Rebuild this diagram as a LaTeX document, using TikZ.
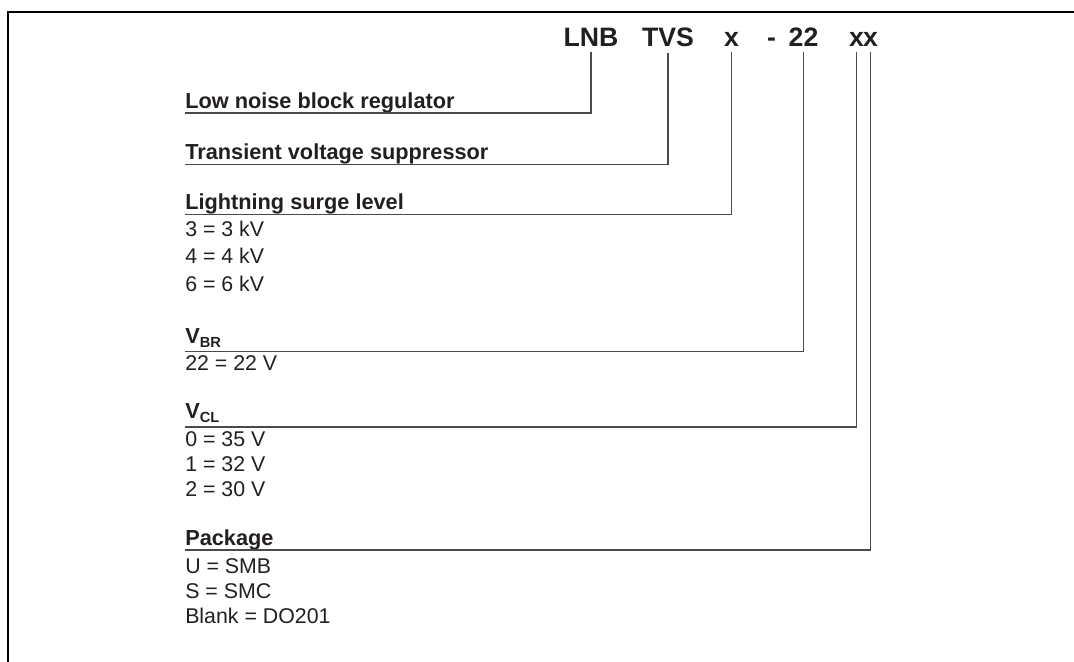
\documentclass[tikz,border=0pt]{standalone}
\usepackage{fontspec}
\setmainfont{Liberation Sans}
\definecolor{ink}{HTML}{231F20}
\definecolor{wire}{HTML}{4A4A4A}
\begin{document}
\begin{tikzpicture}[x=0.75pt,y=-0.75pt,
  hdr/.style={anchor=base,inner sep=0pt,text=ink,font=\fontsize{20}{24}\selectfont\bfseries},
  lbl/.style={anchor=south west,inner sep=0pt,text=ink,text depth=3.3pt,font=\fontsize{16.3}{19}\selectfont\bfseries},
  vlbl/.style={lbl,text depth=6.3pt},
  item/.style={anchor=base west,inner sep=0pt,text=ink,font=\fontsize{16}{19}\selectfont},
  conn/.style={draw=wire,line width=0.85pt},
  frame/.style={draw=black,line width=1.6pt}]
\useasboundingbox (0,0) rectangle (1074,661);
\draw[frame] (1076,12) -- (8,12) -- (8,663);
% header
\node[hdr] (hLNB) at (591,46) {LNB};
\node[hdr] (hTVS) at (668,46) {TVS};
\node[hdr] (hX) at (731.5,46) {x};
\node[hdr] (hDash) at (771.5,46) {-};
\node[hdr] (h22) at (803.5,46) {22};
\node[hdr] (hXa) at (856.5,46) {x};
\node[hdr] (hXb) at (870.5,46) {x};
% labels
\newcommand{\vsub}[1]{\raisebox{-3pt}{\fontsize{11}{13}\selectfont #1}}
\node[lbl] (lab1) at (185,113) {Low noise block regulator};
\node[lbl] (lab2) at (185,164.5) {Transient voltage suppressor};
\node[lbl] (lab3) at (185,214.3) {Lightning surge level};
\node[vlbl] (lab4) at (185,351.7) {V\vsub{BR}};
\node[vlbl] (lab5) at (185,427) {V\vsub{CL}};
\node[lbl] (lab6) at (185,550) {Package};
% connectors
\draw[conn] (hLNB.south) ++(0,6) |- (lab1.south west);
\draw[conn] (hTVS.south) ++(0,6) |- (lab2.south west);
\draw[conn] (hX.south) ++(0,6) |- (lab3.south west);
\draw[conn] (h22.south) ++(0,6) |- (lab4.south west);
\draw[conn] (hXa.south) ++(0,6) |- (lab5.south west);
\draw[conn] (hXb.south) ++(0,6) |- (lab6.south west);
% items
\node[item] (i31) at (185,236) {3 = 3 kV};
\node[item] (i32) at (185,263) {4 = 4 kV};
\node[item] (i33) at (185,291) {6 = 6 kV};
\node[item] (i41) at (185,370) {22 = 22 V};
\node[item] (i51) at (185,446) {0 = 35 V};
\node[item] (i52) at (185,471) {1 = 32 V};
\node[item] (i53) at (185,496) {2 = 30 V};
\node[item] (i61) at (185,573) {U = SMB};
\node[item] (i62) at (185,598) {S = SMC};
\node[item] (i63) at (185,623) {Blank = DO201};
\end{tikzpicture}
\end{document}
